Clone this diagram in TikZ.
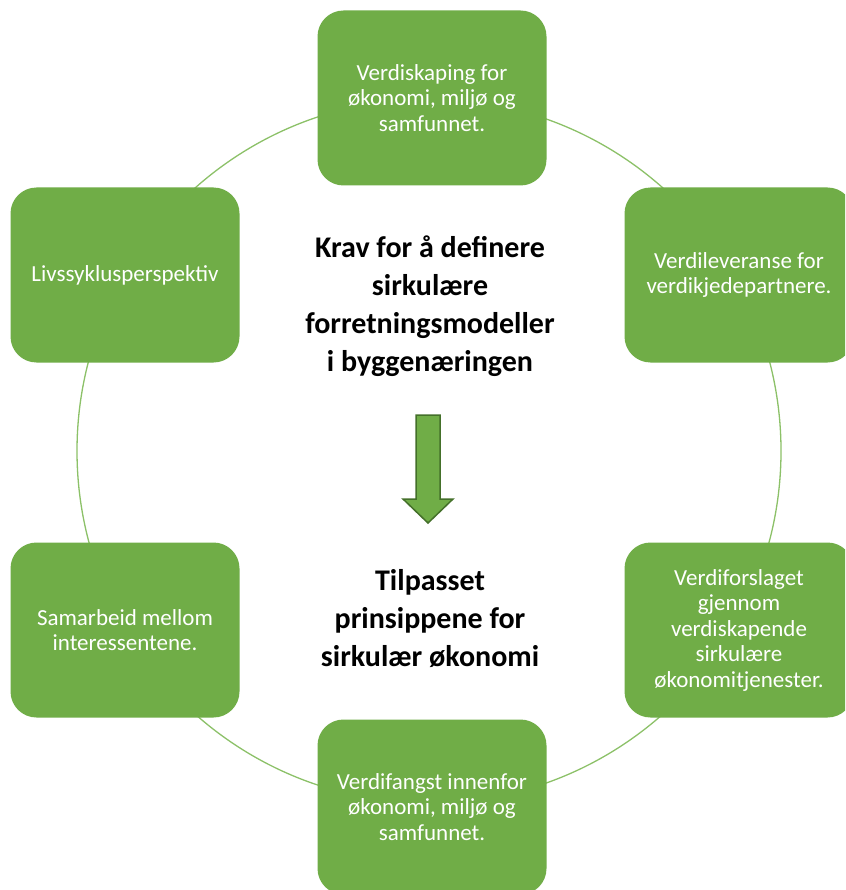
\documentclass[tikz,border=0pt]{standalone}
\usepackage{fontspec}
\setmainfont{Carlito}
\definecolor{boxgreen}{HTML}{70AD47}
\definecolor{arrowedge}{HTML}{44702A}
\definecolor{ringgreen}{HTML}{8CC168}
\begin{document}
\begin{tikzpicture}[x=1pt,y=-1pt,
  gbox/.style={fill=boxgreen, draw=none, rounded corners=26pt, minimum width=229pt, minimum height=175pt,
    text=white, align=center, font=\fontsize{23}{25.5}\selectfont, inner sep=0pt},
  ctext/.style={align=center, font=\fontsize{30}{38}\selectfont\bfseries, text=black}]
\clip (0,0) rectangle (845,890);
\fill[white] (0,0) rectangle (845,890);
\draw[ringgreen, line width=1.3pt] (429,451) circle (352);
\node[gbox] (n1) at (432,98) {Verdiskaping for\\økonomi, miljø og\\samfunnet.};
\node[gbox] (n2) at (739,275) {Verdileveranse for\\verdikjedepartnere.};
\node[gbox] (n3) at (739,630) {Verdiforslaget\\gjennom\\verdiskapende\\sirkulære\\økonomitjenester.};
\node[gbox] (n4) at (432,807) {Verdifangst innenfor\\økonomi, miljø og\\samfunnet.};
\node[gbox] (n5) at (125,630) {Samarbeid mellom\\interessentene.};
\node[gbox] (n6) at (125,275) {Livssyklusperspektiv};
\node[ctext] (c1) at (430,306) {Krav for å definere\\sirkulære\\forretningsmodeller\\i byggenæringen};
\node[ctext] (c2) at (430,619) {Tilpasset\\prinsippene for\\sirkulær økonomi};
\draw[fill=boxgreen, draw=arrowedge, line width=1.5pt, line join=miter]
  (416,415) -- (440,415) -- (440,499) -- (453,499) -- (428,523) -- (403,499) -- (416,499) -- cycle;
\end{tikzpicture}
\end{document}
